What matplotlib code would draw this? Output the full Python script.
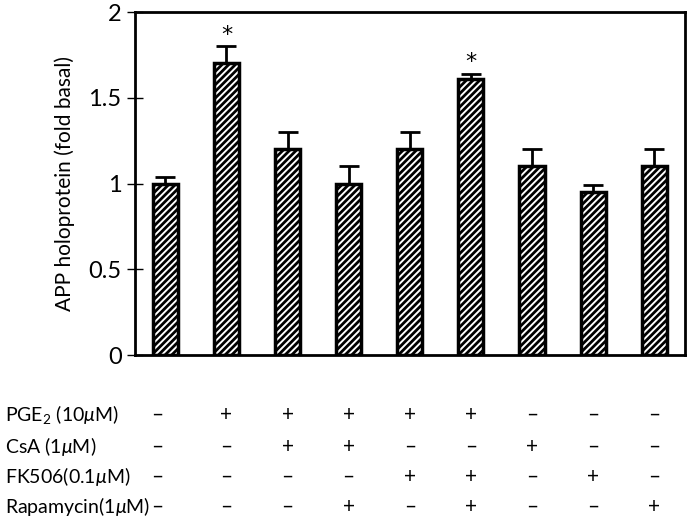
import numpy as np
import matplotlib
matplotlib.use("Agg")
import matplotlib.pyplot as plt
import matplotlib.transforms as mtransforms

# values
values = [1.0, 1.7, 1.2, 1.0, 1.2, 1.61, 1.1, 0.95, 1.1]
errors = [0.04, 0.1, 0.1, 0.1, 0.1, 0.03, 0.1, 0.04, 0.1]
starred = [1, 5]

row_labels = ["PGE$_2$ (10$\\mu$M)", "CsA (1$\\mu$M)", "FK506(0.1$\\mu$M)", "Rapamycin(1$\\mu$M)"]
pge2 = ["–", "+", "+", "+", "+", "+", "–", "–", "–"]
csa = ["–", "–", "+", "+", "–", "–", "+", "–", "–"]
fk506 = ["–", "–", "–", "–", "+", "+", "–", "+", "–"]
rapa = ["–", "–", "–", "+", "–", "+", "–", "–", "+"]
treatments = [pge2, csa, fk506, rapa]

plt.rcParams["font.family"] = ["Lato", "DejaVu Sans"]
plt.rcParams["mathtext.fontset"] = "custom"
plt.rcParams["mathtext.rm"] = "Lato"
plt.rcParams["mathtext.it"] = "Lato:italic"
plt.rcParams["hatch.linewidth"] = 2.0

fig = plt.figure(figsize=(6.91, 5.23), dpi=100)
ax = fig.add_axes([0.195, 0.321, 0.796, 0.656])

x = np.arange(len(values))
ax.bar(x, values, width=0.41, color="white", edgecolor="black", linewidth=2.5,
       hatch="/////", zorder=2)
ax.errorbar(x, values, yerr=[np.zeros(len(errors)), errors], fmt="none",
            ecolor="black", elinewidth=2, capsize=7, capthick=2, zorder=3)

for i in starred:
    ax.text(x[i], values[i] + errors[i] + 0.01, "*", ha="center", va="bottom",
            fontsize=16, family="DejaVu Sans")

ax.set_xlim(-0.5, len(values) - 0.5)
ax.set_ylim(0, 2)
ax.set_yticks([0, 0.5, 1, 1.5, 2])
ax.set_yticklabels(["0", "0.5", "1", "1.5", "2"])
ax.set_xticks([])
ax.tick_params(axis="y", direction="inout", length=11, width=1, labelsize=17, pad=4)
for s in ax.spines.values():
    s.set_linewidth(2)
ax.set_ylabel("APP holoprotein (fold basal)", fontsize=15, labelpad=10)

# treatment table under the plot
trans = mtransforms.blended_transform_factory(ax.transData, fig.transFigure)
row_y = [1 - 415 / 523, 1 - 447 / 523, 1 - 477 / 523, 1 - 507 / 523]
col_x = x.astype(float)
col_x[0] = -0.13
for label, signs, yy in zip(row_labels, treatments, row_y):
    fig.text(5 / 691, yy, label, ha="left", va="center", fontsize=14)
    for xi, s in zip(col_x, signs):
        ax.text(xi, yy, s, transform=trans, ha="center", va="center", fontsize=15)

fig.savefig("out.png", dpi=100)
